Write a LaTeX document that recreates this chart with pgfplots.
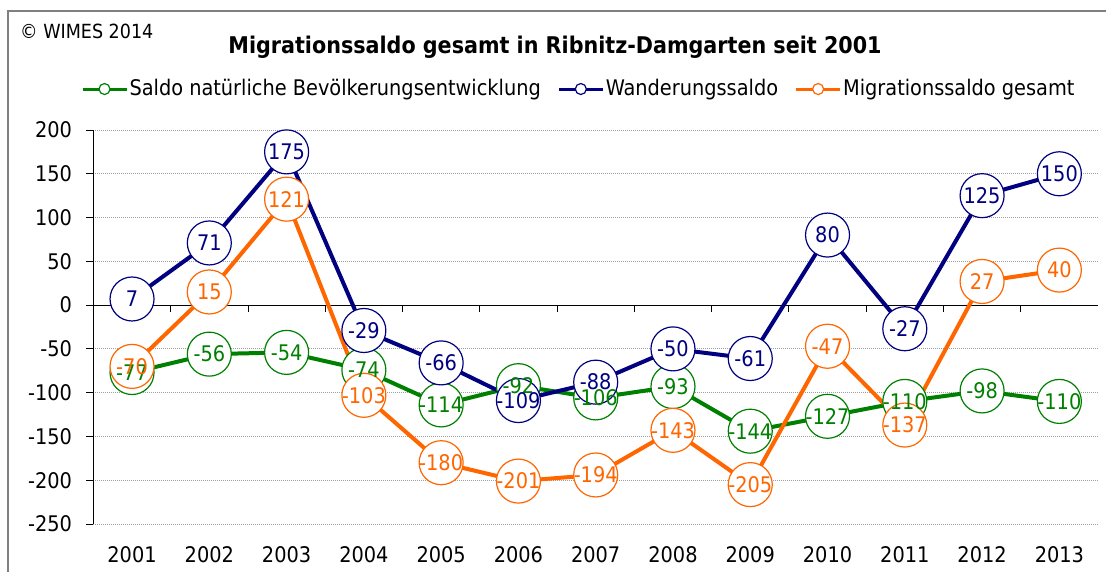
\documentclass[border=0pt]{standalone}
\usepackage{pgfplots}
\pgfplotsset{compat=1.18}
\usepackage{pgfplotstable}
\usepackage{fontspec}
\setmainfont{DejaVu Sans Condensed}
\definecolor{cgreen}{RGB}{0,128,0}
\definecolor{cblue}{RGB}{0,0,128}
\definecolor{corange}{RGB}{255,102,0}
\definecolor{cframe}{RGB}{128,128,128}
\newcommand\ff{\fontsize{21.5}{25}\selectfont}
\pgfplotstableread{
x g b o
0 -77 7 -70
1 -56 71 15
2 -54 175 121
3 -74 -29 -103
4 -114 -66 -180
5 -92 -109 -201
6 -106 -88 -194
7 -93 -50 -143
8 -144 -61 -205
9 -127 80 -47
10 -110 -27 -137
11 -98 125 27
12 -110 150 40
}\data
\begin{document}
\ff
\begin{tikzpicture}[x=1pt,y=1pt]
\useasboundingbox (0,0) rectangle (1106,571);
\draw[cframe, line width=1.3pt] (8,-20) rectangle (1130,560);
\node[anchor=west, inner sep=0pt, font=\fontsize{19.5}{23}\selectfont] at (20,540) {© WIMES 2014};
\node[font=\fontsize{23}{27}\selectfont\bfseries] at (555,524) {Migrationssaldo gesamt in Ribnitz-Damgarten seit 2001};
\begin{axis}[
  at={(93.4pt,47pt)}, anchor=south west,
  scale only axis, width=1004.6pt, height=394pt,
  xmin=-0.5, xmax=12.5, ymin=-250, ymax=200,
  clip=false,
  axis line style={draw=none},
  xtick={0,...,12},
  xticklabels={2001,2002,2003,2004,2005,2006,2007,2008,2009,2010,2011,2012,2013},
  ytick={-250,-200,-150,-100,-50,0,50,100,150,200},
  yticklabels={-250,-200,-150,-100,-50,0,50,100,150,200},
  xtick style={draw=none},
  ytick style={black, line width=0.9pt},
  ytick pos=left, tick align=outside, major tick length=7pt,
  ymajorgrids, grid style={gray!75, dash pattern=on 1pt off 1pt, line width=1pt},
  tick label style={font=\ff},
  xticklabel style={yshift=-8pt},
  yticklabel style={xshift=-7pt},
  legend columns=3,
  legend style={draw=none, fill=none, font=\ff, at={(axis description cs:-0.0155,1.104)}, anchor=west,
     nodes={inner sep=1.5pt},
     /tikz/every even column/.append style={column sep=15pt}},
  legend image code/.code={
    \draw[#1, mark=none, line width=3pt] (0pt,0pt) -- (44pt,0pt);
    \draw[#1, mark=none, line width=1.2pt, fill=white] (22pt,0pt) circle (5.5pt);
  },
]
\draw[black, line width=1pt] (axis cs:-0.5,-250) -- (axis cs:-0.5,200);
\draw[black, line width=1pt] (axis cs:-0.5,0) -- (axis cs:12.5,0);
\pgfplotsinvokeforeach{0.5,1.5,2.5,3.5,4.5,5.5,6.5,7.5,8.5,9.5,10.5,11.5}{
  \draw[black, line width=0.9pt] (axis cs:#1,0) -- ++(0pt,-7pt);
}
\addplot[cgreen, line width=4pt, mark=*, mark size=22pt, mark options={fill=white, draw=cgreen, line width=1.2pt}] table[x=x,y=g]{\data};
\addlegendentry{Saldo natürliche Bevölkerungsentwicklung}
\addplot[cblue, line width=4pt, mark=*, mark size=22pt, mark options={fill=white, draw=cblue, line width=1.2pt}] table[x=x,y=b]{\data};
\addlegendentry{Wanderungssaldo}
\addplot[corange, line width=4pt, mark=*, mark size=22pt, mark options={fill=white, draw=corange, line width=1.2pt}] table[x=x,y=o]{\data};
\addlegendentry{Migrationssaldo gesamt}
\addplot[draw=none, mark=none, forget plot, nodes near coords, point meta=explicit symbolic,
  every node near coord/.append style={anchor=center, text=cgreen, font=\ff, inner sep=0pt}] table[x=x,y=g,meta=g]{\data};
\addplot[draw=none, mark=none, forget plot, nodes near coords, point meta=explicit symbolic,
  every node near coord/.append style={anchor=center, text=cblue, font=\ff, inner sep=0pt}] table[x=x,y=b,meta=b]{\data};
\addplot[draw=none, mark=none, forget plot, nodes near coords, point meta=explicit symbolic,
  every node near coord/.append style={anchor=center, text=corange, font=\ff, inner sep=0pt}] table[x=x,y=o,meta=o]{\data};
\end{axis}
\end{tikzpicture}
\end{document}
